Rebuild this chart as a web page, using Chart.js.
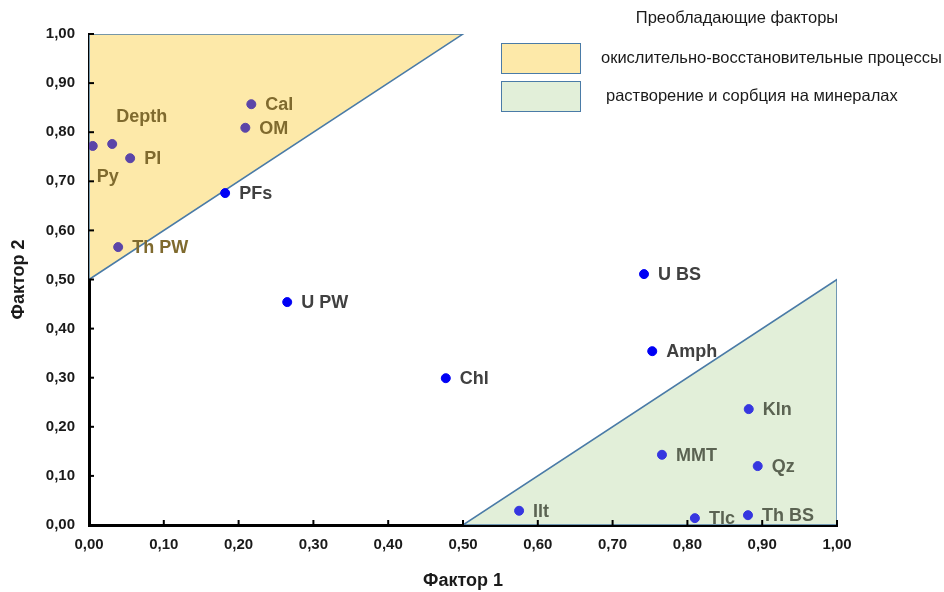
<!DOCTYPE html>
<html>
<head>
<meta charset="utf-8">
<script src="https://cdn.jsdelivr.net/npm/chart.js@4/dist/chart.umd.min.js"></script>
<style>
  body { margin: 0; background: #fff; }
  #wrap { width: 944px; height: 592px; }
</style>
</head>
<body>
<div id="wrap"><canvas id="myChart" width="944" height="592"></canvas></div>
<script>
// data
var oxNames = ["Py", "Depth", "Pl", "Cal", "OM", "Th PW"];
var oxX = [0.005, 0.031, 0.055, 0.217, 0.209, 0.039];
var oxY = [0.772, 0.776, 0.747, 0.857, 0.809, 0.566];

var midNames = ["PFs", "U PW", "Chl", "U BS", "Amph"];
var midX = [0.182, 0.265, 0.477, 0.742, 0.753];
var midY = [0.676, 0.454, 0.299, 0.511, 0.354];

var sorbNames = ["Kln", "MMT", "Qz", "Ilt", "Tlc", "Th BS"];
var sorbX = [0.882, 0.766, 0.894, 0.575, 0.810, 0.881];
var sorbY = [0.236, 0.143, 0.120, 0.029, 0.014, 0.020];

// regions
var oxAreaX = [0, 0, 0.5, 0];
var oxAreaY = [0.5, 1, 1, 0.5];
var sorbAreaX = [0.5, 1, 1, 0.5];
var sorbAreaY = [0, 0, 0.5, 0];

var legendTitle = "Преобладающие факторы";
var oxLabel = "окислительно-восстановительные процессы";
var sorbLabel = "растворение и сорбция на минералах";

var tickVals = [0, 0.1, 0.2, 0.3, 0.4, 0.5, 0.6, 0.7, 0.8, 0.9, 1.0];

function pts(xs, ys) {
    var out = [];
    for (var i = 0; i < xs.length; i++) out.push({x: xs[i], y: ys[i]});
    return out;
}

// label tweaks where the default (to the right) is not used
var labelShift = {
    "Depth": [4, -27],
    "Py": [4, 31]
};

var AXIS = "#000";
var EDGE = "#4a7ba7";
var FONT = "'Liberation Sans', Arial, sans-serif";

var pointLabels = {
    id: "pointLabels",
    afterDatasetsDraw: function (chart) {
        var ctx = chart.ctx;
        ctx.save();
        ctx.font = "bold 18px " + FONT;
        ctx.textBaseline = "middle";
        ctx.textAlign = "left";
        chart.data.datasets.forEach(function (ds, di) {
            if (!ds.names) return;
            var meta = chart.getDatasetMeta(di);
            meta.data.forEach(function (el, i) {
                var name = ds.names[i];
                var sh = labelShift[name] || [14, 1];
                ctx.fillStyle = ds.labelColor;
                ctx.fillText(name, el.x + sh[0], el.y + sh[1]);
            });
        });
        ctx.restore();
    }
};

var innerTicks = {
    id: "innerTicks",
    afterDraw: function (chart) {
        var ctx = chart.ctx;
        var xs = chart.scales.x, ys = chart.scales.y;
        var a = chart.chartArea;
        ctx.save();
        ctx.strokeStyle = AXIS;
        ctx.lineWidth = 2;
        tickVals.forEach(function (v) {
            var px = xs.getPixelForValue(v);
            ctx.beginPath();
            ctx.moveTo(px, a.bottom);
            ctx.lineTo(px, a.bottom - 5);
            ctx.stroke();
            var py = ys.getPixelForValue(v);
            ctx.beginPath();
            ctx.moveTo(a.left, py);
            ctx.lineTo(a.left + 5, py);
            ctx.stroke();
        });
        ctx.restore();
    }
};

var boxLegend = {
    id: "boxLegend",
    afterDraw: function (chart) {
        var ctx = chart.ctx;
        ctx.save();
        ctx.font = "16.5px " + FONT;
        ctx.fillStyle = "#1a1a1a";
        ctx.textBaseline = "middle";
        ctx.textAlign = "center";
        ctx.fillText(legendTitle, 737, 18);
        ctx.textAlign = "left";
        var rows = [
            {ds: chart.data.datasets[0], y: 43, tx: 601},
            {ds: chart.data.datasets[1], y: 81, tx: 606}
        ];
        rows.forEach(function (r) {
            ctx.fillStyle = r.ds.backgroundColor;
            ctx.fillRect(501, r.y, 79, 30);
            ctx.strokeStyle = r.ds.borderColor;
            ctx.lineWidth = 1;
            ctx.strokeRect(501.5, r.y + 0.5, 79, 30);
            ctx.fillStyle = "#1a1a1a";
            ctx.fillText(r.ds.label, r.tx, r.y + 15);
        });
        ctx.restore();
    }
};

var tickFmt = function (v) { return Number(v).toFixed(2).replace(".", ","); };

var chart = new Chart(document.getElementById("myChart").getContext("2d"), {
    type: "scatter",
    data: {
        datasets: [
            {
                label: oxLabel,
                data: pts(oxAreaX, oxAreaY),
                showLine: true,
                fill: "shape",
                backgroundColor: "#fde9a9",
                borderColor: EDGE,
                borderWidth: 1.5,
                pointRadius: 0,
                tension: 0,
                order: 5
            },
            {
                label: sorbLabel,
                data: pts(sorbAreaX, sorbAreaY),
                showLine: true,
                fill: "shape",
                backgroundColor: "#e2efd9",
                borderColor: EDGE,
                borderWidth: 1.5,
                pointRadius: 0,
                tension: 0,
                order: 5
            },
            {
                label: "ox",
                names: oxNames,
                labelColor: "#7f6a2e",
                data: pts(oxX, oxY),
                backgroundColor: "#5b45a8",
                borderColor: "#5b45a8",
                pointRadius: 4.5,
                order: 1
            },
            {
                label: "mid",
                names: midNames,
                labelColor: "#404040",
                data: pts(midX, midY),
                backgroundColor: "#0000f5",
                borderColor: "#0000f5",
                pointRadius: 4.5,
                order: 1
            },
            {
                label: "sorb",
                names: sorbNames,
                labelColor: "#5b6352",
                data: pts(sorbX, sorbY),
                backgroundColor: "#3636e0",
                borderColor: "#3636e0",
                pointRadius: 4.5,
                order: 1
            }
        ]
    },
    options: {
        responsive: false,
        animation: false,
        layout: { padding: { top: 34, right: 107, bottom: 0, left: 0 } },
        plugins: {
            legend: { display: false },
            tooltip: { enabled: false }
        },
        scales: {
            x: {
                type: "linear",
                min: 0,
                max: 1,
                z: 1,
                afterFit: function (s) { s.height = 67; },
                afterBuildTicks: function (s) { s.ticks = tickVals.map(function (v) { return {value: v}; }); },
                grid: { display: true, drawOnChartArea: false, drawTicks: false },
                border: { display: true, color: AXIS, width: 3 },
                ticks: {
                    padding: 11,
                    color: "#1a1a1a",
                    font: { family: FONT, weight: "bold", size: 15 },
                    callback: tickFmt
                },
                title: {
                    display: true,
                    text: "Фактор 1",
                    color: "#1a1a1a",
                    font: { family: FONT, weight: "bold", size: 18 },
                    padding: { top: 0, bottom: 0 }
                }
            },
            y: {
                type: "linear",
                min: 0,
                max: 1,
                z: 1,
                afterFit: function (s) { s.width = 89; },
                afterBuildTicks: function (s) { s.ticks = tickVals.map(function (v) { return {value: v}; }); },
                grid: { display: true, drawOnChartArea: false, drawTicks: false },
                border: { display: true, color: AXIS, width: 3 },
                ticks: {
                    padding: 14,
                    color: "#1a1a1a",
                    font: { family: FONT, weight: "bold", size: 15 },
                    callback: tickFmt
                },
                title: {
                    display: true,
                    text: "Фактор 2",
                    color: "#1a1a1a",
                    font: { family: FONT, weight: "bold", size: 18 },
                    padding: { top: 8, bottom: 0 }
                }
            }
        }
    },
    plugins: [pointLabels, innerTicks, boxLegend]
});
</script>
</body>
</html>
